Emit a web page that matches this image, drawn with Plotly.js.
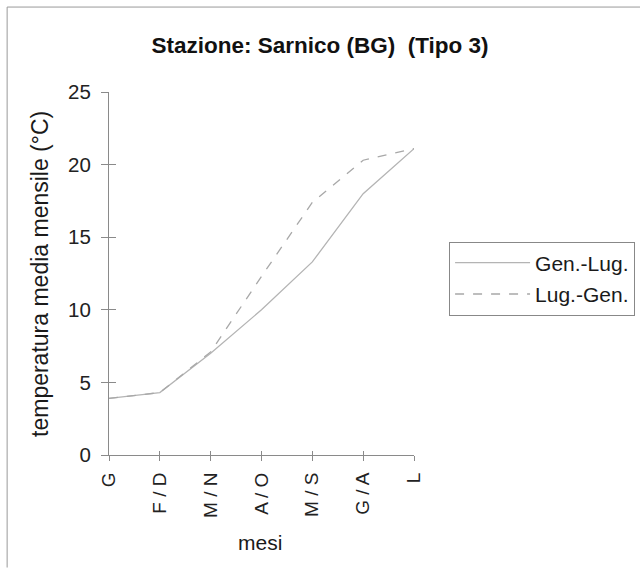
<!DOCTYPE html>
<html><head><meta charset="utf-8">
<script src="https://cdn.plot.ly/plotly-3.0.1.min.js"></script>
<style>body{margin:0;background:#fff}#chart{width:640px;height:571px}</style>
</head><body><div id="chart"></div>
<script>
const months = ["G", "F / D", "M / N", "A / O", "M / S", "G / A", "L"];
const genLug = [3.9, 4.3, 7.0, 10.0, 13.3, 18.0, 21.1];
const lugGen = [3.9, 4.3, 7.1, 12.3, 17.4, 20.3, 21.1];
const seriesNames = ["Gen.-Lug.", "Lug.-Gen."];

const FONT = "Liberation Sans, Arial, sans-serif";
const AX = "#8a8a8a";
const traces = [
  {x: months, y: genLug, name: seriesNames[0], type: "scatter", mode: "lines", legendgroup: "a",
   line: {color: "#b4b4b4", width: 1.3}},
  {x: months, y: lugGen, name: seriesNames[1], type: "scatter", mode: "lines", legendgroup: "b",
   line: {color: "#a8a8a8", width: 1.3, dash: "dash"}}
];
const layout = {
  width: 640, height: 571,
  margin: {l: 109, r: 226, t: 92, b: 116, autoexpand: false},
  paper_bgcolor: "#fff", plot_bgcolor: "#fff",
  font: {family: FONT, color: "#1a1a1a", size: 20},
  title: {text: "<b>Stazione: Sarnico (BG)  (Tipo 3)</b>", font: {family: FONT, size: 22.5, color: "#111"},
          x: 0.5, xref: "container", y: 0.921, yref: "container", yanchor: "middle"},
  xaxis: {type: "category", range: [0, 6], showgrid: false, zeroline: false,
          showline: true, linecolor: AX, linewidth: 1,
          ticks: "outside", ticklen: 5, tickcolor: AX, tickangle: -90, ticklabelstandoff: 4,
          tickfont: {size: 19, family: FONT, color: "#222"}},
  xaxis2: {type: "category", range: [0, 6], overlaying: "x", anchor: "y", side: "bottom",
           showgrid: false, zeroline: false, showline: false, showticklabels: false,
           ticks: "inside", ticklen: 4, tickcolor: AX, matches: "x"},
  yaxis: {range: [0, 25], dtick: 5, showgrid: false, zeroline: false,
          showline: true, linecolor: AX, linewidth: 1,
          ticks: "outside", ticklen: 7, tickcolor: AX, ticklabelstandoff: 6,
          tickfont: {size: 20.5, family: FONT, color: "#222"}},
  yaxis2: {range: [0, 25], dtick: 5, overlaying: "y", anchor: "x", side: "left",
           showgrid: false, zeroline: false, showline: false, showticklabels: false,
           ticks: "inside", ticklen: 7, tickcolor: AX},
  showlegend: true,
  legend: {x: 1.115, y: 0.588, xanchor: "left", yanchor: "top",
           bordercolor: "#888", borderwidth: 1, bgcolor: "#fff", itemwidth: 75,
           font: {size: 21, family: FONT, color: "#1a1a1a"}, tracegroupgap: 1},
  annotations: [
    {text: "temperatura media mensile (°C)", textangle: -90, xref: "paper", yref: "paper",
     x: -0.228, y: 0.5, showarrow: false, font: {size: 23, family: FONT, color: "#1a1a1a"},
     xanchor: "center", yanchor: "middle"},
    {text: "mesi", xref: "paper", yref: "paper", x: 0.495, y: -0.242, showarrow: false,
     font: {size: 21, family: FONT, color: "#1a1a1a"}, xanchor: "center", yanchor: "middle"}
  ],
  shapes: [
    {type: "line", xref: "paper", yref: "paper", x0: -0.334, x1: -0.334, y0: -0.31, y1: 1.234,
     line: {color: "#999", width: 1}},
    {type: "line", xref: "paper", yref: "paper", x0: -0.334, x1: 1.75, y0: 1.234, y1: 1.234,
     line: {color: "#999", width: 1}}
  ]
};
// invisible helper trace so the secondary (cross-tick) axes render
traces.push({x: months, y: genLug, xaxis: "x2", yaxis: "y2", type: "scatter", mode: "lines",
             showlegend: false, hoverinfo: "skip", line: {color: "rgba(0,0,0,0)"}});
Plotly.newPlot("chart", traces, layout, {displayModeBar: false});
</script></body></html>
